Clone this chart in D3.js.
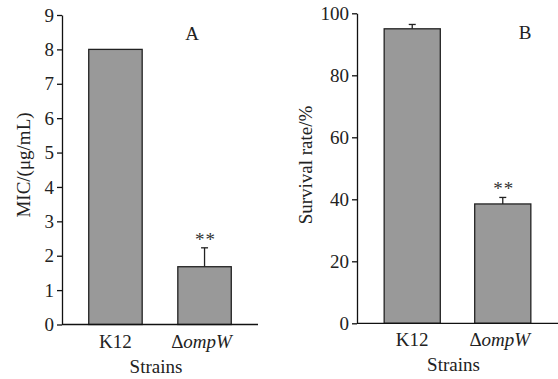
<!DOCTYPE html>
<html>
<head>
<meta charset="utf-8">
<script src="https://cdn.jsdelivr.net/npm/d3@7"></script>
<style>
  html, body { margin: 0; padding: 0; background: #fff; }
  svg { display: block; font-family: "Liberation Serif", "Times New Roman", serif; }
</style>
</head>
<body>
<svg id="chart" width="558" height="379"></svg>
<script>
const strains = ['K12', 'ΔompW'];
const micValues = [8, 1.68];
const micErrors = [0, 0.55];
const micMarks = ['', '**'];
const micTicks = [0, 1, 2, 3, 4, 5, 6, 7, 8, 9];

const survivalValues = [95, 38.5];
const survivalErrors = [1.4, 2.1];
const survivalMarks = ['', '**'];
const survivalTicks = [0, 20, 40, 60, 80, 100];

const svg = d3.select('#chart');

function drawPanel(opts) {
  const g = svg.append('g');

  const x = d3.scaleBand()
    .domain(strains)
    .range([opts.left, opts.right])
    .paddingInner(opts.inner)
    .paddingOuter(opts.outer);

  const y = d3.scaleLinear()
    .domain([0, opts.max])
    .range([opts.bottom, opts.top]);

  // bars
  g.selectAll('.bar')
    .data(strains)
    .enter().append('rect')
    .attr('class', 'bar')
    .attr('x', d => x(d))
    .attr('width', x.bandwidth())
    .attr('y', (d, i) => y(opts.values[i]))
    .attr('height', (d, i) => opts.bottom - y(opts.values[i]))
    .attr('fill', '#999999')
    .attr('stroke', '#222')
    .attr('stroke-width', 1.3);

  // error bars (upper only)
  strains.forEach((s, i) => {
    if (!opts.errors[i]) return;
    const cx = x(s) + x.bandwidth() / 2;
    const top = y(opts.values[i] + opts.errors[i]);
    g.append('line')
      .attr('x1', cx).attr('x2', cx)
      .attr('y1', y(opts.values[i])).attr('y2', top)
      .attr('stroke', '#222').attr('stroke-width', 1.3);
    g.append('line')
      .attr('x1', cx - 3.5).attr('x2', cx + 3.5)
      .attr('y1', top).attr('y2', top)
      .attr('stroke', '#222').attr('stroke-width', 1.3);
  });

  // significance marks
  g.selectAll('.sig')
    .data(strains)
    .enter().append('text')
    .attr('class', 'sig')
    .attr('x', d => x(d) + x.bandwidth() / 2 + 1)
    .attr('y', (d, i) => y(opts.values[i] + opts.errors[i]) - 2)
    .attr('text-anchor', 'middle')
    .attr('font-size', '19px')
    .attr('letter-spacing', '1px')
    .attr('fill', '#333')
    .text((d, i) => opts.marks[i]);

  // y axis
  const yAxis = g.append('g')
    .attr('transform', `translate(${opts.left},0)`)
    .call(d3.axisLeft(y).tickValues(opts.ticks).tickSize(5).tickPadding(3).tickSizeOuter(0));
  yAxis.select('.domain').attr('stroke', '#111').attr('stroke-width', 1.3);
  yAxis.selectAll('.tick line').attr('stroke', '#111').attr('stroke-width', 1.3);
  yAxis.selectAll('text')
    .attr('font-family', '"Liberation Serif", "Times New Roman", serif')
    .style('font-size', '19px')
    .attr('fill', '#222');

  // x axis
  g.append('line')
    .attr('x1', opts.left).attr('x2', opts.right)
    .attr('y1', opts.bottom).attr('y2', opts.bottom)
    .attr('stroke', '#111').attr('stroke-width', 1.3);

  const labels = g.selectAll('.xlabel')
    .data(strains)
    .enter().append('text')
    .attr('class', 'xlabel')
    .attr('x', d => x(d) + x.bandwidth() / 2 - (d === 'K12' ? 0 : 3))
    .attr('y', opts.bottom + 23)
    .attr('text-anchor', 'middle')
    .attr('font-size', '19px')
    .attr('fill', '#222');
  labels.each(function (d) {
    const t = d3.select(this);
    if (d.startsWith('Δ')) {
      t.append('tspan').text('Δ');
      t.append('tspan').attr('font-style', 'italic').text(d.slice(1));
    } else {
      t.text(d);
    }
  });

  g.append('text')
    .attr('x', (opts.left + opts.right) / 2 - 4)
    .attr('y', opts.bottom + 48)
    .attr('text-anchor', 'middle')
    .attr('font-size', '19px')
    .attr('fill', '#222')
    .text('Strains');

  // y label
  g.append('text')
    .attr('transform', `translate(${opts.ylabelX},${opts.ylabelY}) rotate(-90)`)
    .attr('text-anchor', 'middle')
    .attr('font-size', '19px')
    .attr('fill', '#222')
    .text(opts.ylabel);

  // panel letter
  g.append('text')
    .attr('x', opts.letterX)
    .attr('y', opts.letterY)
    .attr('text-anchor', 'middle')
    .attr('font-size', '19px')
    .attr('fill', '#222')
    .text(opts.letter);
}

drawPanel({
  values: micValues, errors: micErrors, marks: micMarks, ticks: micTicks, max: 9,
  left: 62, right: 258, top: 15, bottom: 324.5, inner: 0.4, outer: 0.3,
  ylabel: 'MIC/(μg/mL)', ylabelX: 30, ylabelY: 165,
  letter: 'A', letterX: 192, letterY: 40
});

drawPanel({
  values: survivalValues, errors: survivalErrors, marks: survivalMarks, ticks: survivalTicks, max: 100,
  left: 357, right: 558, top: 13.3, bottom: 323.3, inner: 0.38, outer: 0.3,
  ylabel: 'Survival rate/%', ylabelX: 312, ylabelY: 165,
  letter: 'B', letterX: 525, letterY: 39
});
</script>
</body>
</html>
